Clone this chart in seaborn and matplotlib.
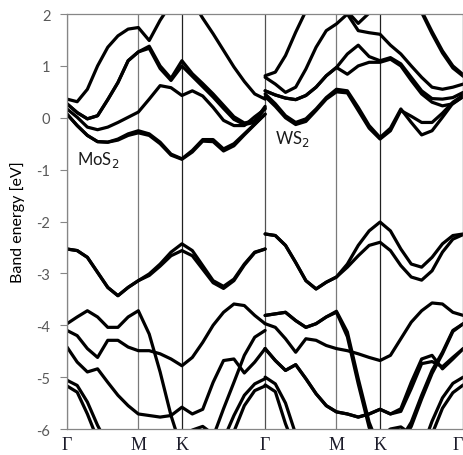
import numpy as np
import pandas as pd
import matplotlib
matplotlib.use('Agg')
import matplotlib.pyplot as plt
import seaborn as sns

# path labels and high-symmetry positions (panel units, MoS2 0..1, WS2 1..2)
path_labels = ['Γ', 'M', 'K', 'Γ', 'M', 'K', 'Γ']
sym_pos = [0, 0.36, 0.58, 1.0, 1.36, 1.58, 2.0]

# sample grid: 7 steps Γ-M, 4 steps M-K, 8 steps K-Γ
k_panel = np.concatenate([np.linspace(0, 0.36, 8),
                          np.linspace(0.36, 0.58, 5)[1:],
                          np.linspace(0.58, 1.0, 9)[1:]])

# MoS2 bands [eV]
mos2_bands = {
    'c4': [0.36, 0.31, 0.55, 1.00, 1.36, 1.58, 1.71, 1.74, 1.49, 1.88, 2.20, 2.40, 2.25, 1.92, 1.62, 1.30, 0.98, 0.70, 0.46, 0.36],
    'c3': [0.27, 0.10, -0.02, 0.04, 0.35, 0.68, 1.10, 1.27, 1.38, 1.00, 0.76, 1.10, 0.85, 0.66, 0.46, 0.24, 0.02, -0.10, -0.06, 0.22],
    'c3b': [0.27, 0.10, -0.02, 0.04, 0.35, 0.68, 1.10, 1.27, 1.34, 0.95, 0.72, 1.00, 0.80, 0.60, 0.40, 0.18, -0.03, -0.13, -0.09, 0.19],
    'c2': [0.17, 0.01, -0.18, -0.23, -0.18, -0.09, 0.01, 0.11, 0.36, 0.62, 0.58, 0.43, 0.52, 0.42, 0.20, -0.05, -0.15, -0.15, 0.02, 0.17],
    'c1': [0.07, -0.15, -0.34, -0.46, -0.47, -0.41, -0.31, -0.25, -0.31, -0.47, -0.70, -0.79, -0.63, -0.42, -0.42, -0.60, -0.50, -0.31, -0.12, 0.07],
    'c1b': [0.07, -0.15, -0.34, -0.46, -0.47, -0.43, -0.34, -0.29, -0.34, -0.50, -0.72, -0.80, -0.66, -0.45, -0.46, -0.64, -0.54, -0.33, -0.13, 0.07],
    'v1': [-2.53, -2.56, -2.69, -2.98, -3.27, -3.43, -3.27, -3.14, -3.01, -2.82, -2.59, -2.43, -2.56, -2.85, -3.14, -3.25, -3.11, -2.82, -2.59, -2.53],
    'v1b': [-2.53, -2.56, -2.69, -2.98, -3.27, -3.43, -3.27, -3.14, -3.04, -2.86, -2.66, -2.56, -2.66, -2.92, -3.18, -3.29, -3.14, -2.84, -2.60, -2.53],
    'vA': [-3.97, -3.84, -3.72, -3.84, -4.04, -4.04, -3.84, -3.72, -4.17, -4.90, -5.74, -6.40, -6.60, -6.60, -6.15, -5.61, -5.10, -4.58, -4.23, -4.10],
    'vB': [-4.10, -4.20, -4.45, -4.62, -4.29, -4.29, -4.42, -4.49, -4.49, -4.55, -4.65, -4.78, -4.62, -4.33, -4.00, -3.75, -3.59, -3.62, -3.81, -3.97],
    'vC': [-4.42, -4.71, -4.90, -4.84, -5.10, -5.35, -5.55, -5.71, -5.74, -5.77, -5.74, -5.58, -5.71, -5.62, -5.10, -4.68, -4.65, -4.92, -4.71, -4.45],
    'vE': [-5.06, -5.16, -5.48, -5.93, -6.30, -6.60, -6.80, -6.90, -6.90, -6.90, -6.90, -6.90, -6.90, -6.80, -6.60, -6.20, -5.74, -5.35, -5.13, -5.03],
    'vF': [-5.17, -5.29, -5.71, -6.20, -6.50, -6.80, -7.00, -7.00, -7.00, -7.00, -7.00, -7.00, -7.00, -7.00, -6.80, -6.50, -6.05, -5.55, -5.26, -5.17],
    'vG': [-6.60, -6.60, -6.60, -6.60, -6.60, -6.60, -6.60, -6.60, -6.50, -6.40, -6.30, -6.15, -6.02, -5.95, -6.10, -6.40, -6.60, -6.60, -6.60, -6.60],
}

# WS2 bands [eV]
ws2_bands = {
    'c5': [0.81, 0.88, 1.20, 1.65, 2.06, 2.40, 2.60, 2.70, 2.70, 2.60, 2.50, 2.40, 2.30, 2.20, 2.10, 2.03, 1.62, 1.25, 0.96, 0.80],
    'c5b': [2.30, 2.40, 2.50, 2.50, 2.40, 2.30, 2.20, 2.10, 2.05, 1.82, 2.02, 2.30, 2.30, 2.25, 2.15, 2.06, 1.66, 1.29, 1.00, 0.83],
    'c4': [0.78, 0.65, 0.49, 0.59, 0.94, 1.36, 1.68, 1.81, 2.00, 1.68, 1.64, 1.61, 1.40, 1.23, 1.00, 0.78, 0.59, 0.55, 0.59, 0.65],
    'c3': [0.52, 0.44, 0.38, 0.35, 0.43, 0.59, 0.81, 0.97, 1.23, 1.40, 1.18, 1.10, 1.16, 1.04, 0.78, 0.52, 0.37, 0.36, 0.39, 0.49],
    'c2': [0.52, 0.44, 0.38, 0.35, 0.43, 0.59, 0.81, 0.97, 0.84, 1.00, 1.07, 1.07, 1.13, 1.00, 0.72, 0.46, 0.30, 0.23, 0.27, 0.41],
    'c1': [0.46, 0.27, 0.04, -0.09, -0.02, 0.17, 0.39, 0.55, 0.52, 0.20, -0.15, -0.38, -0.20, 0.17, -0.09, -0.33, -0.25, 0.01, 0.28, 0.41],
    'c1b': [0.41, 0.22, 0.00, -0.13, -0.07, 0.14, 0.36, 0.50, 0.48, 0.14, -0.20, -0.41, -0.25, 0.14, 0.03, -0.09, -0.09, 0.09, 0.30, 0.44],
    'v1': [-2.24, -2.27, -2.46, -2.79, -3.14, -3.30, -3.17, -3.07, -2.82, -2.46, -2.18, -2.01, -2.18, -2.53, -2.82, -2.88, -2.69, -2.43, -2.27, -2.24],
    'v1b': [-2.24, -2.27, -2.46, -2.79, -3.14, -3.30, -3.17, -3.07, -2.88, -2.66, -2.46, -2.40, -2.56, -2.85, -3.07, -3.13, -2.95, -2.59, -2.34, -2.25],
    'vA': [-3.81, -3.78, -3.75, -3.91, -4.04, -3.97, -3.84, -3.73, -4.13, -5.03, -5.87, -6.40, -6.60, -6.20, -5.87, -5.35, -4.87, -4.52, -4.10, -3.97],
    'vA2': [-3.81, -3.78, -3.75, -3.91, -4.04, -3.97, -3.84, -3.75, -4.22, -5.13, -5.97, -6.50, -6.60, -6.30, -5.95, -5.42, -4.93, -4.55, -4.12, -3.97],
    'vB': [-3.97, -4.04, -4.26, -4.52, -4.26, -4.29, -4.39, -4.45, -4.49, -4.55, -4.62, -4.68, -4.58, -4.26, -3.94, -3.72, -3.57, -3.59, -3.75, -3.81],
    'vC': [-4.45, -4.68, -4.87, -4.76, -5.03, -5.32, -5.55, -5.67, -5.71, -5.77, -5.71, -5.62, -5.71, -5.61, -5.10, -4.65, -4.58, -4.84, -4.65, -4.45],
    'vC2': [-4.45, -4.68, -4.87, -4.76, -5.03, -5.32, -5.55, -5.67, -5.71, -5.77, -5.71, -5.62, -5.71, -5.66, -5.22, -4.74, -4.70, -4.80, -4.62, -4.45],
    'vE': [-5.00, -5.13, -5.50, -6.10, -6.50, -6.80, -7.00, -7.00, -7.00, -7.00, -7.00, -7.00, -7.00, -7.00, -6.80, -6.40, -5.85, -5.40, -5.12, -5.00],
    'vF': [-5.15, -5.28, -5.90, -6.40, -6.70, -7.00, -7.00, -7.00, -7.00, -7.00, -7.00, -7.00, -7.00, -7.00, -7.00, -6.60, -6.10, -5.60, -5.30, -5.15],
    'vG': [-6.60, -6.60, -6.60, -6.60, -6.60, -6.60, -6.60, -6.60, -6.50, -6.40, -6.30, -6.15, -6.00, -5.96, -6.10, -6.40, -6.60, -6.60, -6.60, -6.60],
}

# build a long table for seaborn
rows = []
for offset, name, bands in [(0.0, 'MoS2', mos2_bands), (1.0, 'WS2', ws2_bands)]:
    for band, energies in bands.items():
        for k, e in zip(k_panel + offset, energies):
            rows.append({'k': k, 'E': e, 'band': name + '_' + band})
df = pd.DataFrame(rows)

sns.set_style('white')
plt.rcParams['font.family'] = ['Lato', 'DejaVu Sans']
plt.rcParams['axes.unicode_minus'] = False

fig = plt.figure(figsize=(4.64, 4.56), dpi=100)
ax = fig.add_axes([0.1444, 0.057, 0.854, 0.910])

sns.lineplot(data=df, x='k', y='E', units='band', estimator=None, sort=False,
             color='black', lw=2.3, ax=ax, legend=False,
             solid_joinstyle='round', solid_capstyle='round')

# vertical lines at the high-symmetry points
line_colors = ['#808080', '#7a7a7a', '#202020', '#505050', '#7a7a7a', '#202020', '#808080']
for x, c in zip(sym_pos, line_colors):
    ax.axvline(x, color=c, lw=0.9, zorder=1)

ax.set_xlim(0, 2)
ax.set_ylim(-6, 2)
ax.set_xticks(sym_pos)
ax.set_xticklabels(path_labels, family='Liberation Serif', fontsize=13, color='#1c1c2a')
ax.get_xticklabels()[0].set_horizontalalignment('center')
ax.get_xticklabels()[-1].set_horizontalalignment('right')
ax.tick_params(axis='x', length=0, pad=5)
ax.set_yticks(range(-6, 3))
ax.set_yticklabels([str(v) for v in range(-6, 3)], fontsize=10.5, color='#595959')
ax.tick_params(axis='y', length=5, width=0.8, color='#868686', pad=7, left=True)
ax.set_xlabel('')
ax.set_ylabel('Band energy [eV]', fontsize=11.5, color='black', labelpad=8)

for s in ax.spines.values():
    s.set_color('#868686')
    s.set_linewidth(0.9)

ax.text(0.05, -0.90, 'MoS$_2$', fontsize=12, color='#1a1a1a')
ax.text(1.05, -0.49, 'WS$_2$', fontsize=12, color='#1a1a1a')

fig.savefig('out.png', dpi=100)
